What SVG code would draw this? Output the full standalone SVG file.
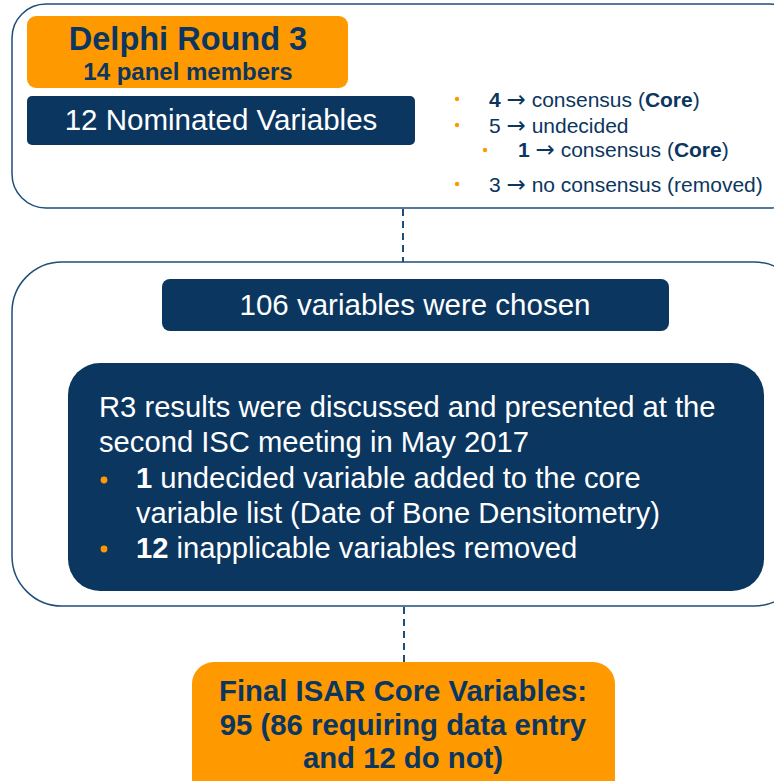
<svg xmlns="http://www.w3.org/2000/svg" width="774" height="781" viewBox="0 0 774 781">
<style>
.frame{fill:#fff;stroke:#1f4e79;stroke-width:1.5}
.orange{fill:#ff9900}
.navy{fill:#0b3660}
.t{font-family:"Liberation Sans",Arial,sans-serif}
.b{font-weight:bold}
.dt{fill:#0b3660}
.wt{fill:#fff}
.dot{fill:#ff9900}
.ar{font-family:"DejaVu Sans",sans-serif;font-size:23px}
.conn{stroke:#1f4e79;stroke-width:2;stroke-dasharray:7 5;fill:none}
</style>
<rect width="774" height="781" fill="#fff"/>
<g id="connectors">
<line class="conn" x1="403" y1="209" x2="403" y2="262"/>
<line class="conn" x1="404" y1="607" x2="404" y2="662"/>
</g>
<g id="round3">
<rect class="frame" x="12" y="4" width="792" height="204" rx="34"/>
<g id="title">
<rect class="orange" x="27" y="16" width="321" height="72" rx="9"/>
<text class="t b dt" x="188" y="50" font-size="32.5" text-anchor="middle">Delphi Round 3</text>
<text class="t b dt" x="188" y="80" font-size="24" text-anchor="middle">14 panel members</text>
</g>
<g id="nominated">
<rect class="navy" x="27" y="96" width="388" height="49" rx="5"/>
<text class="t wt" x="221" y="130" font-size="29.5" text-anchor="middle">12 Nominated Variables</text>
</g>
<g id="results" class="t dt" font-size="21">
<circle class="dot" cx="457" cy="99" r="2.2"/>
<text x="489" y="107"><tspan class="b">4</tspan> <tspan class="ar">→</tspan> consensus (<tspan class="b">Core</tspan>)</text>
<circle class="dot" cx="457" cy="125" r="2.2"/>
<text x="489" y="133">5 <tspan class="ar">→</tspan> undecided</text>
<circle class="dot" cx="485" cy="150" r="2.2"/>
<text x="518" y="157"><tspan class="b">1</tspan> <tspan class="ar">→</tspan> consensus (<tspan class="b">Core</tspan>)</text>
<circle class="dot" cx="457" cy="184" r="2.2"/>
<text x="489" y="192">3 <tspan class="ar">→</tspan> no consensus (removed)</text>
</g>
</g>
<g id="isc">
<rect class="frame" x="12" y="262" width="792" height="344" rx="50"/>
<g id="chosen">
<rect class="navy" x="162" y="279" width="507" height="52" rx="8"/>
<text class="t wt" x="415" y="315" font-size="29.5" text-anchor="middle">106 variables were chosen</text>
</g>
<g id="meeting">
<rect class="navy" x="68" y="363" width="696" height="228" rx="32"/>
<g class="t wt" font-size="29.2">
<text x="99" y="417">R3 results were discussed and presented at the</text>
<text x="99" y="452">second ISC meeting in May 2017</text>
<circle class="dot" cx="104" cy="480" r="3.4"/>
<text x="136" y="488"><tspan class="b">1</tspan> undecided variable added to the core</text>
<text x="136" y="523">variable list (Date of Bone Densitometry)</text>
<circle class="dot" cx="104" cy="549" r="3.4"/>
<text x="136" y="558"><tspan class="b">12</tspan> inapplicable variables removed</text>
</g>
</g>
</g>
<g id="final">
<rect class="orange" x="192" y="662" width="423" height="140" rx="22"/>
<g class="t b dt" font-size="29.3" text-anchor="middle">
<text x="403" y="701">Final ISAR Core Variables:</text>
<text x="403" y="735">95 (86 requiring data entry</text>
<text x="403" y="768">and 12 do not)</text>
</g>
</g>
</svg>
